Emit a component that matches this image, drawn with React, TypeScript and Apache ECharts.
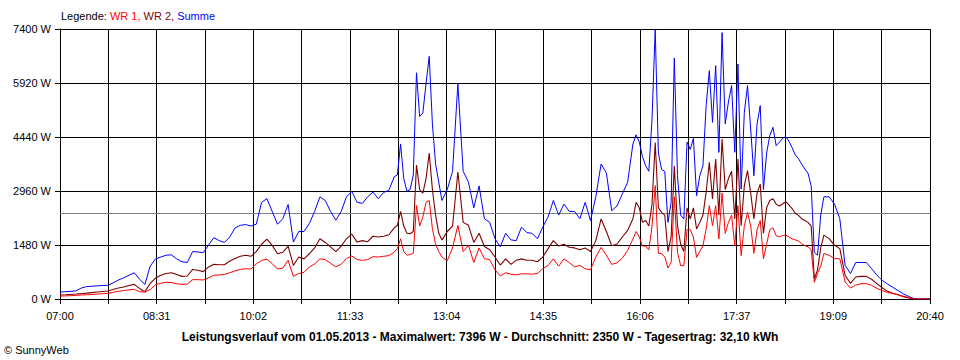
import React, { useEffect, useRef } from "react";
import * as echarts from "echarts";

// minutes after 07:00
const minutes = [
  0, 5, 10, 15, 20, 25, 30, 35, 40, 45, 50, 55, 60, 65, 70, 75, 80, 85, 90, 95, 100, 105, 110, 115, 120, 125, 130, 135, 140, 145, 150, 155, 160, 165, 170, 175, 180, 185, 190, 195, 200, 205, 210, 215, 220, 225, 230, 235, 240, 245, 250, 255, 260, 265, 270, 275, 280, 285, 290, 295, 300, 305, 310,
  315, 318, 321, 324, 327, 330, 333, 336, 339, 342, 345, 348, 351, 354, 357, 360,
  365, 370, 375, 380, 385, 390, 395, 400, 405, 410, 415, 420, 425, 430, 435, 440, 445, 450, 455, 460, 465, 470, 475, 480, 485, 490, 495, 500, 505, 510, 515, 520, 525, 530, 535,
  540, 543, 546, 549, 552, 555, 558, 561, 564, 567, 570, 573, 576, 579, 582, 585, 588, 591, 594, 597, 600, 603, 606, 609, 612, 615, 618, 621, 624, 627, 630, 633, 636, 639, 642, 645, 648, 651, 654, 657, 660, 663, 666, 669, 672, 675, 678, 681, 684, 687, 690, 693, 696, 699, 702, 705, 708, 711, 714, 717, 720,
  725, 730, 735, 740, 745, 750, 755, 760, 765, 770, 775, 780, 785, 790, 795, 800, 805, 810, 815, 820,
];

const summe = [
  190, 200, 210, 220, 300, 340, 350, 360, 370, 375, 440, 520, 580, 650, 720, 540, 400, 900, 1100, 1150, 1200, 1210, 1100, 1020, 1000, 1300, 1290, 1270, 1480, 1680, 1600, 1550, 1700, 1950, 2020, 2040, 2000, 2050, 2650, 2750, 2400, 2050, 2200, 2590, 1560, 1850, 1850, 2070, 2400, 2800, 2700, 2400, 2160, 2400, 2800, 2950, 2650, 2620, 2800, 2930, 2750, 2920, 2980,
  3350, 3400, 4250, 3300, 2950, 3000, 3400, 6200, 5000, 5100, 5900, 6650, 4800, 3700, 3200, 2700,
  3000, 3500, 5900, 3500, 3200, 2500, 3100, 2200, 2100, 1650, 1430, 1800, 1620, 1600, 1970, 1820, 1800, 1650, 1970, 2250, 2700, 2300, 2600, 2400, 2400, 2200, 2650, 2150, 2800, 3700, 3450, 2420, 2550, 2880, 3200,
  4248, 4500, 4300, 3900, 3650, 3500, 4933, 7396, 4000, 3550, 3500, 2100, 2650, 6600, 3380, 2300, 2193, 4300, 4100, 4400, 2832, 3380, 3650, 5299, 6258, 4842, 6395, 4020, 7300, 4800, 5400, 5850, 4020, 6441, 3015, 5116, 5850, 4659, 3380, 4800, 5300, 3000, 4000, 4477, 4705, 4203, 4294, 4400, 4450, 4330, 4150, 3950, 3850, 3700, 3560, 3450, 3100, 1280, 1200, 2300, 2800,
  2800, 2600, 2200, 920, 700, 1000, 1000, 1000, 830, 650, 510, 410, 320, 230, 140, 70, 10, 0, 0, 0,
];

const wr1 = [
  80, 85, 90, 100, 110, 115, 125, 135, 145, 155, 185, 210, 230, 250, 265, 200, 190, 260, 390, 430, 460, 450, 420, 400, 410, 530, 530, 520, 580, 650, 660, 670, 720, 770, 810, 830, 820, 960, 1060, 1090, 970, 820, 850, 1060, 620, 700, 730, 880, 960, 1100, 1080, 980, 880, 950, 1110, 1180, 1080, 1060, 1080, 1160, 1150, 1170, 1190,
  1280, 1380, 1650, 1300, 1200, 1220, 1250, 2560, 2000, 2250, 2650, 2700, 1930, 1500, 1300, 1150,
  1050, 1400, 2019, 1300, 1471, 1000, 1400, 1105, 1080, 800, 630, 720, 680, 660, 690, 690, 680, 700, 830, 920, 1100, 900, 1100, 1000, 880, 920, 830, 800, 1150, 1416, 1200, 950, 990, 1120, 1330,
  1644, 1850, 1700, 1450, 1450, 1350, 2000, 3106, 1250, 1250, 1150, 850, 1000, 2800, 1279, 914, 914, 1900, 1900, 1700, 1142, 1300, 1462, 1918, 2558, 2010, 2558, 1644, 2900, 1800, 2100, 2300, 1462, 2558, 1188, 2010, 2375, 2000, 1250, 1900, 2150, 1100, 1500, 1900, 1950, 1736, 1700, 1736, 1754, 1700, 1650, 1620, 1590, 1517, 1460, 1434, 1350, 457, 700, 900, 1250,
  1197, 1105, 1105, 466, 300, 380, 420, 420, 375, 290, 230, 180, 150, 115, 70, 40, 0, 0, 0, 0,
];

const wr2 = [
  110, 115, 125, 135, 146, 160, 175, 190, 205, 220, 260, 300, 330, 370, 400, 290, 195, 430, 570, 650, 700, 720, 670, 620, 630, 810, 790, 750, 880, 950, 940, 940, 1040, 1110, 1170, 1200, 1170, 1300, 1500, 1640, 1470, 1240, 1280, 1450, 920, 1150, 1100, 1240, 1400, 1650, 1550, 1430, 1300, 1450, 1650, 1780, 1560, 1600, 1570, 1720, 1700, 1720, 1760,
  1950, 2020, 2400, 2000, 1800, 1790, 1850, 3670, 3000, 2900, 3300, 4000, 3000, 2300, 1800, 1620,
  1850, 2000, 3481, 2100, 2019, 1550, 1800, 1440, 1350, 1150, 930, 1100, 950, 1060, 1100, 1060, 1060, 1020, 1150, 1380, 1600, 1450, 1500, 1420, 1400, 1350, 1400, 1300, 1600, 2193, 1850, 1460, 1500, 1700, 1880,
  2200, 2650, 2500, 2100, 2150, 2000, 2600, 4290, 2500, 2375, 2300, 1300, 1700, 3654, 2010, 1500, 1300, 2500, 2200, 2500, 1918, 2100, 2300, 2924, 3746, 2741, 3837, 2300, 4385, 3000, 3300, 3500, 2193, 3837, 2010, 3106, 3517, 2900, 2193, 2900, 3150, 1800, 2500, 2700, 2750, 2600, 2550, 2604, 2668, 2580, 2480, 2350, 2293, 2200, 2150, 2100, 2000, 548, 800, 1400, 1750,
  1654, 1471, 1380, 649, 430, 603, 620, 620, 540, 420, 310, 210, 160, 115, 65, 30, 0, 0, 0, 0,
];

const timeLabels = ["07:00", "08:31", "10:02", "11:33", "13:04", "14:35", "16:06", "17:37", "19:09", "20:40"];
const totalMinutes = 820;
const tickCount = 18;
const yMax = 7400;
const yStep = 1480;
const average = 2350;
const seriesNames = ["WR 1", "WR 2", "Summe"];
const titleText =
  "Leistungsverlauf vom 01.05.2013 - Maximalwert: 7396 W - Durchschnitt: 2350 W - Tagesertrag: 32,10 kWh";
const copyright = "© SunnyWeb";

const FONT = "'Liberation Sans', Arial, sans-serif";

export default function App() {
  const ref = useRef<HTMLDivElement>(null);

  useEffect(() => {
    if (!ref.current) return;
    const chart = echarts.init(ref.current, null, { renderer: "svg" });
    const step = totalMinutes / tickCount;
    const pairs = (vals: number[]) => minutes.map((m, i) => [m, vals[i]]);

    chart.setOption({
      animation: false,
      backgroundColor: "#ffffff",
      grid: { left: 60, right: 30, top: 29, height: 270 },
      xAxis: {
        type: "value",
        min: 0,
        max: totalMinutes,
        interval: step,
        axisLine: { show: true, lineStyle: { color: "#000", width: 1 } },
        axisTick: { show: true, length: 5, lineStyle: { color: "#000" } },
        splitLine: { show: true, lineStyle: { color: "#000", width: 1 } },
        axisLabel: {
          color: "#000",
          fontFamily: FONT,
          fontSize: 11,
          margin: 11,
          showMinLabel: true,
          showMaxLabel: true,
          formatter: (v: number) => {
            const i = Math.round(v / step);
            return i % 2 === 0 ? timeLabels[i / 2] ?? "" : "";
          },
        },
      },
      yAxis: {
        type: "value",
        min: 0,
        max: yMax,
        interval: yStep,
        axisLine: { show: true, lineStyle: { color: "#000", width: 1 } },
        axisTick: { show: true, length: 5, lineStyle: { color: "#000" } },
        splitLine: { show: true, lineStyle: { color: "#000", width: 1 } },
        axisLabel: {
          color: "#000",
          fontFamily: FONT,
          fontSize: 11,
          margin: 9,
          formatter: (v: number) => `${Math.round(v)} W`,
        },
      },
      series: [
        {
          name: seriesNames[2],
          type: "line",
          data: pairs(summe),
          showSymbol: false,
          symbol: "none",
          lineStyle: { color: "#0000ff", width: 1 },
          itemStyle: { color: "#0000ff" },
          z: 2,
          markLine: {
            silent: true,
            symbol: "none",
            label: { show: false },
            lineStyle: { color: "#808080", type: "solid", width: 1 },
            data: [{ yAxis: average }],
            z: 1,
          },
        },
        {
          name: seriesNames[1],
          type: "line",
          data: pairs(wr2),
          showSymbol: false,
          symbol: "none",
          lineStyle: { color: "#800000", width: 1.1 },
          itemStyle: { color: "#800000" },
          z: 3,
        },
        {
          name: seriesNames[0],
          type: "line",
          data: pairs(wr1),
          showSymbol: false,
          symbol: "none",
          lineStyle: { color: "#ff0000", width: 1 },
          itemStyle: { color: "#ff0000" },
          z: 4,
        },
      ],
      graphic: [
        {
          type: "text",
          left: 61,
          top: 10,
          style: {
            text: `{k|Legende: }{a|${seriesNames[0]}, }{b|${seriesNames[1]}, }{c|${seriesNames[2]}}`,
            font: `11px ${FONT}`,
            rich: {
              k: { fill: "#000", fontSize: 11, fontFamily: FONT },
              a: { fill: "#ff0000", fontSize: 11, fontFamily: FONT },
              b: { fill: "#800000", fontSize: 11, fontFamily: FONT },
              c: { fill: "#0000ff", fontSize: 11, fontFamily: FONT },
            },
          },
        },
        {
          type: "text",
          x: 480,
          y: 337,
          style: {
            text: titleText,
            fill: "#000",
            font: `bold 12px ${FONT}`,
            textAlign: "center",
            textVerticalAlign: "middle",
          },
        },
        {
          type: "text",
          x: 4,
          y: 350,
          style: {
            text: copyright,
            fill: "#000",
            font: `11px ${FONT}`,
            textAlign: "left",
            textVerticalAlign: "middle",
          },
        },
      ],
    });

    return () => chart.dispose();
  }, []);

  return (
    <div
      ref={ref}
      style={{ position: "absolute", left: 0, top: 0, width: 960, height: 360, background: "#fff" }}
    />
  );
}
